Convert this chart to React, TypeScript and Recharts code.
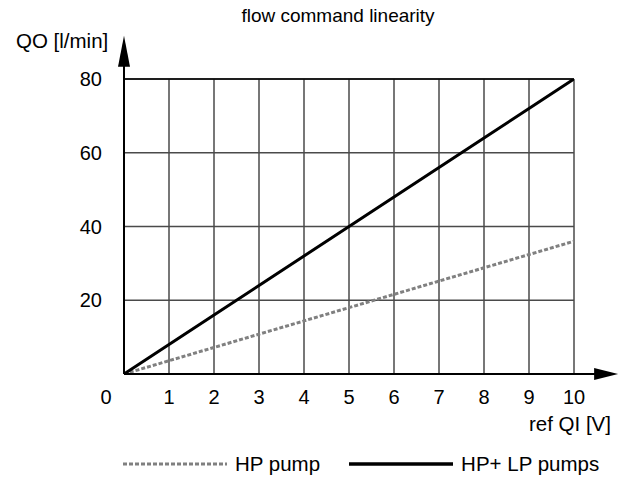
import React from 'react';
import { LineChart, Line, XAxis, YAxis, CartesianGrid, ReferenceLine } from 'recharts';

const refQI = [0, 1, 2, 3, 4, 5, 6, 7, 8, 9, 10];
const hpPump = [0, 3.6, 7.2, 10.8, 14.4, 18, 21.6, 25.2, 28.8, 32.4, 36];
const hpLpPumps = [0, 8, 16, 24, 32, 40, 48, 56, 64, 72, 80];
const xTicks = [0, 1, 2, 3, 4, 5, 6, 7, 8, 9, 10];
const yTicks = [0, 20, 40, 60, 80];

const data = refQI.map((x, i) => ({ x, hp: hpPump[i], hplp: hpLpPumps[i] }));

const FONT = 'Liberation Sans, Arial, sans-serif';

const XTick = (props: any) => {
  const { x, y, payload } = props;
  const dx = payload.value === 0 ? -18 : 0;
  return (
    <text x={x + dx} y={y + 22} textAnchor="middle" fontFamily={FONT} fontSize={20} fill="#000">
      {payload.value}
    </text>
  );
};

const YTick = (props: any) => {
  const { x, y, payload } = props;
  if (payload.value === 0) return <g />;
  return (
    <text x={x - 16} y={y + 7} textAnchor="end" fontFamily={FONT} fontSize={20} fill="#000">
      {payload.value}
    </text>
  );
};

const ArrowX = (props: any) => {
  const { x1, y1, x2, y2 } = props;
  return (
    <g>
      <line x1={x1} y1={y1} x2={x2 - 20} y2={y2} stroke="#000" strokeWidth={2} />
      <polygon points={`${x2},${y2} ${x2 - 24},${y2 - 6} ${x2 - 24},${y2 + 6}`} fill="#000" />
    </g>
  );
};

const ArrowY = (props: any) => {
  const { x1, y1, x2, y2 } = props;
  const top = Math.min(y1, y2);
  const bottom = Math.max(y1, y2);
  return (
    <g>
      <line x1={x1} y1={bottom} x2={x2} y2={top + 20} stroke="#000" strokeWidth={2} />
      <polygon points={`${x1},${top} ${x1 - 6},${top + 31} ${x1 + 6},${top + 31}`} fill="#000" />
    </g>
  );
};

export default function App() {
  return (
    <div style={{ position: 'absolute', left: 0, top: 0, width: 621, height: 484, background: '#fff' }}>
      <LineChart
        width={621}
        height={484}
        data={data}
        margin={{ top: 79, right: 47, bottom: 0, left: 0 }}
      >
        <CartesianGrid stroke="#4a4a4a" strokeWidth={1.5} />
        <XAxis
          dataKey="x"
          type="number"
          domain={[0, 10]}
          ticks={xTicks}
          axisLine={false}
          tickLine={false}
          tick={<XTick />}
          height={110}
          allowDataOverflow
        />
        <YAxis
          type="number"
          domain={[0, 80]}
          ticks={yTicks}
          axisLine={false}
          tickLine={false}
          tick={<YTick />}
          width={124}
          tickMargin={0}
          allowDataOverflow
        />
        <ReferenceLine y={80} stroke="#000" strokeWidth={1.5} />
        <Line
          type="linear"
          dataKey="hp"
          stroke="#808080"
          strokeWidth={3}
          strokeDasharray="4 2"
          dot={false}
          isAnimationActive={false}
        />
        <Line
          type="linear"
          dataKey="hplp"
          stroke="#000"
          strokeWidth={3}
          dot={false}
          isAnimationActive={false}
        />
        <ReferenceLine
          segment={[{ x: 0, y: 0 }, { x: 10.98, y: 0 }]}
          ifOverflow="visible"
          shape={<ArrowX />}
        />
        <ReferenceLine
          segment={[{ x: 0, y: 0 }, { x: 0, y: 91.7 }]}
          ifOverflow="visible"
          shape={<ArrowY />}
        />
      </LineChart>
      <div style={{ position: 'absolute', left: 0, top: 5, width: 621, paddingLeft: 55, boxSizing: 'border-box', textAlign: 'center', fontFamily: FONT, fontSize: 19, color: '#000' }}>
        flow command linearity
      </div>
      <div style={{ position: 'absolute', left: 16, top: 29, fontFamily: FONT, fontSize: 20.5, color: '#000' }}>
        QO [l/min]
      </div>
      <div style={{ position: 'absolute', right: 10, top: 412, fontFamily: FONT, fontSize: 20.5, color: '#000' }}>
        ref QI [V]
      </div>
      <div style={{ position: 'absolute', left: 123, top: 452, display: 'flex', alignItems: 'center', fontFamily: FONT, fontSize: 20.5, color: '#000' }}>
        <svg width={104} height={6}>
          <line x1={0} y1={3} x2={104} y2={3} stroke="#808080" strokeWidth={3} strokeDasharray="4 2" />
        </svg>
        <span style={{ marginLeft: 8 }}>HP pump</span>
        <svg width={104} height={6} style={{ marginLeft: 29 }}>
          <line x1={0} y1={3} x2={104} y2={3} stroke="#000" strokeWidth={3.5} />
        </svg>
        <span style={{ marginLeft: 8 }}>HP+ LP pumps</span>
      </div>
    </div>
  );
}
